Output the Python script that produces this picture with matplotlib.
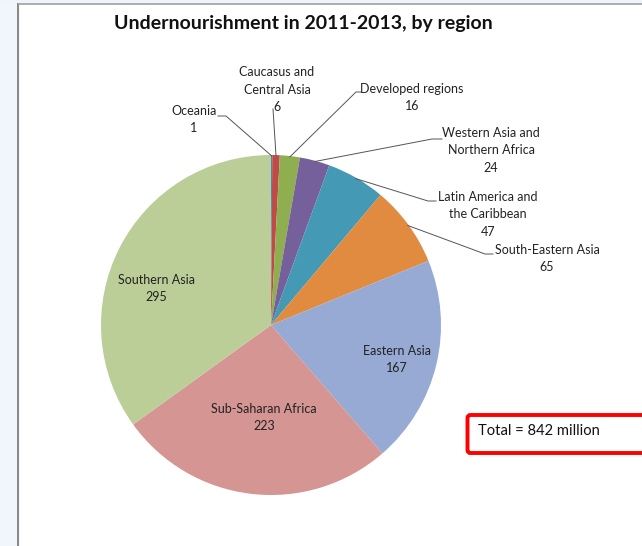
import matplotlib
matplotlib.use("Agg")
import matplotlib.pyplot as plt
from matplotlib.patches import Rectangle, FancyBboxPatch
import numpy as np

plt.rcParams['font.family'] = ['Lato', 'DejaVu Sans']

# ---- data ----
regions = ["Oceania", "Caucasus and\nCentral Asia", "Developed regions",
           "Western Asia and\nNorthern Africa", "Latin America and\nthe Caribbean",
           "South-Eastern Asia", "Eastern Asia", "Sub-Saharan Africa", "Southern Asia"]
values = [1, 6, 16, 24, 47, 65, 167, 223, 295]
colors = ["#4F81BD", "#BE4B48", "#8FAE50", "#76609B", "#4499B4", "#E08B3F",
          "#96AAD4", "#D49593", "#BBCE98"]
title = "Undernourishment in 2011-2013, by region"
total_text = "Total = 842 million"

W, H = 642, 546
fig = plt.figure(figsize=(W / 100, H / 100), dpi=100)
ax = fig.add_axes([0, 0, 1, 1])

def Y(y):
    return H - y

# background strips and chart border
fig.patches.append(Rectangle((0, 0), 17 / W, 1, transform=fig.transFigure,
                             facecolor="#F1F6FC", edgecolor="none", zorder=0))
fig.patches.append(Rectangle((0, 1 - 3 / H), 1, 3 / H, transform=fig.transFigure,
                             facecolor="#EEF4FB", edgecolor="none", zorder=0))

cx, cy, R = 271, Y(325), 170
wedges, _ = ax.pie(values, colors=colors, startangle=90, counterclock=False,
                   center=(cx, cy), radius=R, frame=True,
                   wedgeprops=dict(edgecolor="none", linewidth=0))
ax.set_xlim(0, W)
ax.set_ylim(0, H)
ax.set_aspect('equal')
ax.axis('off')

ax.plot([17.5, 17.5], [0, Y(3)], color="#8A8A8A", lw=1.5, solid_capstyle='butt')
ax.plot([17.5, W], [Y(3.5), Y(3.5)], color="#A0A0A0", lw=1.2, solid_capstyle='butt')

fs = 9.0
LS = 16.5  # pixel line pitch

def block(x, y_first, txt, **kw):
    n = txt.count("\n") + 1
    yc = y_first + (n - 1) * LS / 2
    ax.text(x, Y(yc), txt, ha='center', va='center', fontsize=fs,
            color="#222222", linespacing=1.52, **kw)

# outside labels: (center x, first-line center y, elbow start, elbow end)
outside = {
    0: dict(x=194, y=111, p0=(218, 116), p1=(226, 116)),
    1: dict(x=277, y=73, p0=(273, 109), p1=(273, 109)),
    2: dict(x=412, y=89, p0=(361, 92), p1=(356, 92)),
    3: dict(x=491, y=134, p0=(442, 139), p1=(432, 139)),
    4: dict(x=488, y=198, p0=(436, 201), p1=(428, 201)),
    5: dict(x=547, y=250, p0=(493, 254), p1=(485, 254)),
}
for i, o in outside.items():
    block(o['x'], o['y'], f"{regions[i]}\n{values[i]}")
    w = wedges[i]
    th = np.deg2rad((w.theta1 + w.theta2) / 2)
    ex, ey = cx + R * 0.995 * np.cos(th), cy + R * 0.995 * np.sin(th)
    ax.plot([o['p0'][0], o['p1'][0], ex], [Y(o['p0'][1]), Y(o['p1'][1]), ey],
            color="#555555", lw=0.7, zorder=5)

inside = {6: (397, 351), 7: (264, 409), 8: (156, 280)}
for i, (x, y) in inside.items():
    block(x, y, f"{regions[i]}\n{values[i]}")

ax.text(303, Y(23), title, ha='center', va='center', fontsize=14.0,
        fontweight='bold', color="#111111")

box = FancyBboxPatch((467.5, Y(453)), 250, 38, boxstyle="round,pad=0,rounding_size=3",
                     facecolor="white", edgecolor="#FF0000", linewidth=2.8, zorder=6)
ax.add_patch(box)
ax.text(478, Y(431), total_text, ha='left', va='center', fontsize=10.6,
        color="#111111", zorder=7)

fig.savefig("out.png", dpi=100)
